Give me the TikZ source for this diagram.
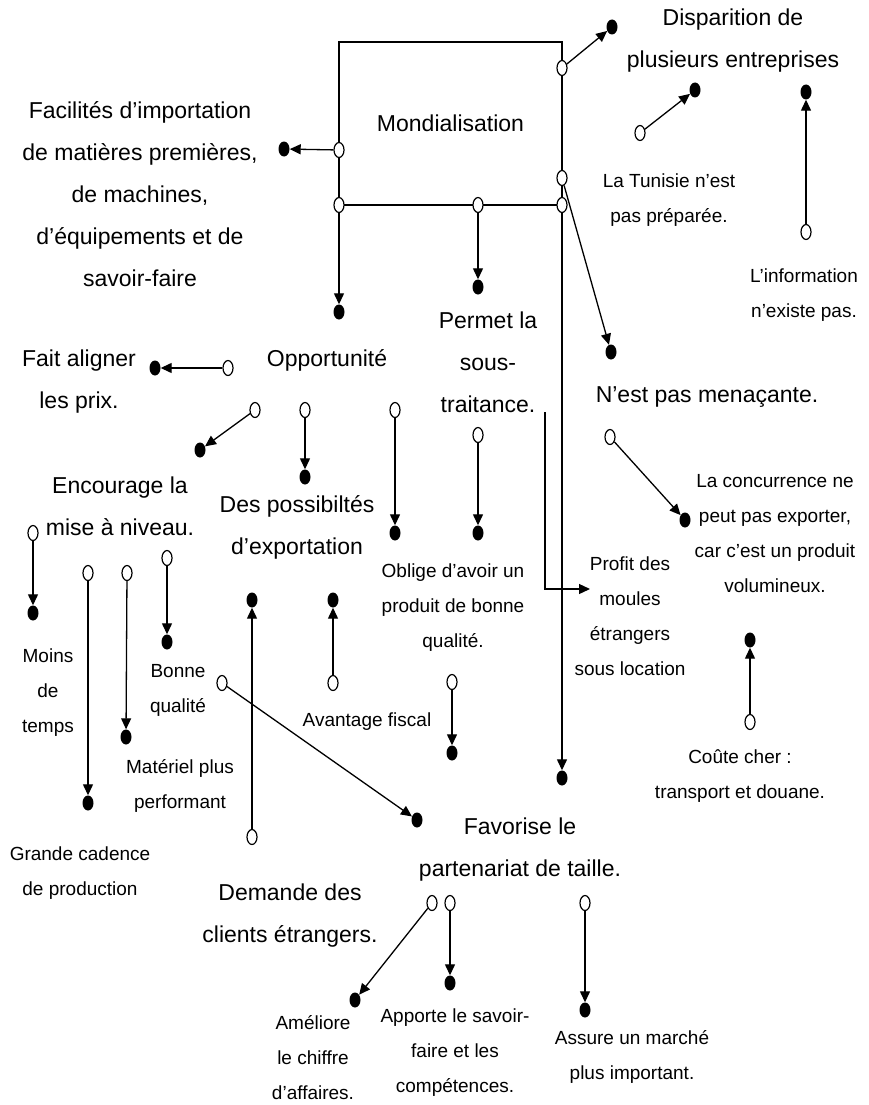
\documentclass[tikz,border=0pt]{standalone}
\usepackage{fontspec}
\setmainfont{Liberation Sans}
\usepackage{tikz}
\usetikzlibrary{arrows.meta,shapes.geometric}

\begin{document}
\begin{tikzpicture}[x=1pt, y=-1pt,
	big/.style={font=\fontsize{23}{42}\selectfont, align=center, inner sep=0},
	small/.style={font=\fontsize{19}{35}\selectfont, align=center, inner sep=0},
	tail/.style={ellipse, draw, fill=white, line width=1.2, minimum width=10, minimum height=15, inner sep=0},
	head/.style={ellipse, fill, minimum width=11, minimum height=15, inner sep=0},
	link/.style={line width=1.3, -{Triangle[length=11pt, width=10pt]}}
]
\useasboundingbox (0,0) rectangle (869,1105);

% main box
\node[big, draw, line width=1.8, minimum width=223, minimum height=163] (mond) at (450.5,123.5) {Mondialisation};

% main labels
\node[big] (disp) at (733,41)  {Disparition de\\plusieurs entreprises};
\node[big] (fac)  at (140,194) {Facilités d'importation\\de matières premières,\\de machines,\\d'équipements et de\\savoir-faire};
\node[big] (opp)  at (327,360) {Opportunité};
\node[big] (fait) at (79,382)  {Fait aligner\\les prix.};
\node[big] (enc)  at (120,506) {Encourage la\\mise à niveau.};
\node[big] (poss) at (297,527) {Des possibiltés\\d'exportation};
\node[big] (perm) at (488,362) {Permet la\\sous-\\traitance.};
\node[big] (nest) at (707,397) {N'est pas menaçante.};
\node[big] (fav)  at (520,850) {Favorise le\\partenariat de taille.};
\node[big] (dem)  at (290,916) {Demande des\\clients étrangers.};

% small labels
\node[small] (tun)   at (669,200)  {La Tunisie n'est\\pas préparée.};
\node[small] (info)  at (804,295)  {L'information\\n'existe pas.};
\node[small] (conc)  at (775,534)  {La concurrence ne\\peut pas exporter,\\car c'est un produit\\volumineux.};
\node[small] (prof)  at (630,616)  {Profit des\\moules\\étrangers\\sous location};
\node[small] (obl)   at (453,608)  {Oblige d'avoir un\\produit de bonne\\qualité.};
\node[small] (avan)  at (367,722)  {Avantage fiscal};
\node[small] (coute) at (740,776)  {Coûte cher :\\transport et douane.};
\node[small] (moins) at (48,693)   {Moins\\de\\temps};
\node[small] (bonne) at (178,690)  {Bonne\\qualité};
\node[small] (mat)   at (180,786)  {Matériel plus\\performant};
\node[small] (gran)  at (80,873)   {Grande cadence\\de production};
\node[small] (amel)  at (313,1058) {Améliore\\le chiffre\\d'affaires.};
\node[small] (appo)  at (455,1053) {Apporte le savoir-\\faire et les\\compétences.};
\node[small] (assu)  at (632,1057) {Assure un marché\\plus important.};

% links: open end (o) to filled end (d)
\node[tail] (o1) at (562,68)  {}; \node[head] (d1) at (612,27)  {};
\node[tail] (o2) at (339,150) {}; \node[head] (d2) at (284,149) {};
\node[tail] (o3) at (562,178) {}; \node[head] (d3) at (611,352) {};
\node[tail] (o4) at (339,205) {}; \node[head] (d4) at (339,312) {};
\node[tail] (o5) at (478,205) {}; \node[head] (d5) at (478,287) {};
\node[tail] (o6) at (562,205) {}; \node[head] (d6) at (562,778) {};
\node[tail] (o7) at (640,133) {}; \node[head] (d7) at (695,90)  {};
\node[tail] (o8) at (806,232) {}; \node[head] (d8) at (806,92)  {};
\node[tail] (o9) at (228,368) {}; \node[head] (d9) at (155,368) {};
\node[tail] (o10) at (255,410) {}; \node[head] (d10) at (200,450) {};
\node[tail] (o11) at (305,410) {}; \node[head] (d11) at (305,477) {};
\node[tail] (o12) at (395,410) {}; \node[head] (d12) at (395,533) {};
\node[tail] (o13) at (478,435) {}; \node[head] (d13) at (478,533) {};
\node[tail] (o14) at (610,437) {}; \node[head] (d14) at (685,520) {};
\node[tail] (o15) at (750,722) {}; \node[head] (d15) at (750,640) {};
\node[tail] (o16) at (33,533)  {}; \node[head] (d16) at (33,613)  {};
\node[tail] (o17) at (88,573)  {}; \node[head] (d17) at (88,803)  {};
\node[tail] (o18) at (127,573) {}; \node[head] (d18) at (126,737) {};
\node[tail] (o19) at (167,558) {}; \node[head] (d19) at (167,642) {};
\node[tail] (o20) at (252,837) {}; \node[head] (d20) at (252,600) {};
\node[tail] (o21) at (333,683) {}; \node[head] (d21) at (333,600) {};
\node[tail] (o22) at (222,683) {}; \node[head] (d22) at (417,820) {};
\node[tail] (o23) at (452,682) {}; \node[head] (d23) at (452,753) {};
\node[tail] (o24) at (432,903) {}; \node[head] (d24) at (355,1000) {};
\node[tail] (o25) at (450,903) {}; \node[head] (d25) at (450,983) {};
\node[tail] (o26) at (585,903) {}; \node[head] (d26) at (585,1010) {};

\draw[link] (o1) -- (d1);
\draw[link] (o2) -- (d2);
\draw[link] (o3) -- (d3);
\draw[link] (o4) -- (d4);
\draw[link] (o5) -- (d5);
\draw[link] (o6) -- (d6);
\draw[link] (o7) -- (d7);
\draw[link] (o8) -- (d8);
\draw[link] (o9) -- (d9);
\draw[link] (o10) -- (d10);
\draw[link] (o11) -- (d11);
\draw[link] (o12) -- (d12);
\draw[link] (o13) -- (d13);
\draw[link] (o14) -- (d14);
\draw[link] (o15) -- (d15);
\draw[link] (o16) -- (d16);
\draw[link] (o17) -- (d17);
\draw[link] (o18) -- (d18);
\draw[link] (o19) -- (d19);
\draw[link] (o20) -- (d20);
\draw[link] (o21) -- (d21);
\draw[link] (o22) -- (d22);
\draw[link] (o23) -- (d23);
\draw[link] (o24) -- (d24);
\draw[link] (o25) -- (d25);
\draw[link] (o26) -- (d26);

% sous-traitance to moules
\coordinate (sbend) at (545,412);
\coordinate (send) at (590,589);
\draw[link] (sbend) |- (send);
\end{tikzpicture}
\end{document}
